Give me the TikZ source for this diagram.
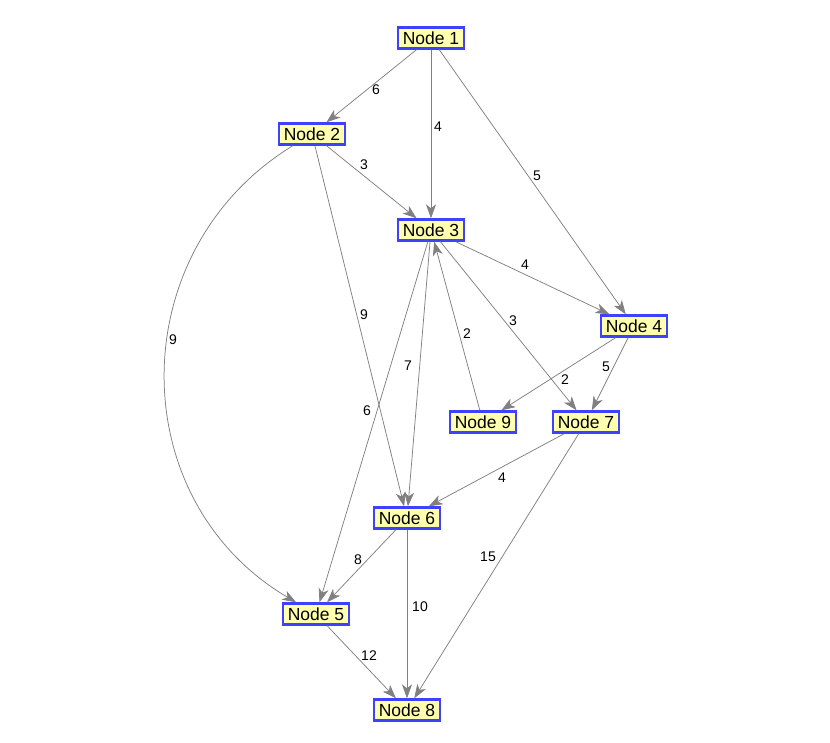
\documentclass[tikz,border=0pt]{standalone}
\usepackage{fontspec}
\setmainfont{Liberation Sans}
\usetikzlibrary{arrows.meta}
\definecolor{boxblue}{RGB}{64,64,255}
\definecolor{boxyellow}{RGB}{255,255,176}
\definecolor{edgegray}{RGB}{128,128,128}

\begin{document}
\begin{tikzpicture}[
		x=1pt,y=-1pt,
		vertex/.style={draw=boxblue,fill=boxyellow,line width=2.3pt,
			font=\fontsize{17.5}{17.5}\selectfont,inner xsep=5pt,inner ysep=0pt,
			minimum height=21pt,text height=12.8pt,text depth=0pt},
		edge/.style={draw=edgegray,line width=0.75pt,
			-{Stealth[length=14pt,width=10pt,inset=4pt]}},
		lbl/.style={font=\fontsize{14}{14}\selectfont,inner sep=1pt},
	]
	\useasboundingbox (0,0) rectangle (830,743);
	% nodes
	\node[vertex] (n1) at (431,38) {Node 1};
	\node[vertex] (n2) at (312,134) {Node 2};
	\node[vertex] (n3) at (431,230) {Node 3};
	\node[vertex] (n4) at (634,326) {Node 4};
	\node[vertex] (n9) at (483,422) {Node 9};
	\node[vertex] (n7) at (586,422) {Node 7};
	\node[vertex] (n6) at (407,518) {Node 6};
	\node[vertex] (n5) at (316,614) {Node 5};
	\node[vertex] (n8) at (407,710) {Node 8};
	% edges
	\draw[edge] (n1) -- (n2);
	\draw[edge] (n1) -- (n3);
	\draw[edge] (n1) -- (n4);
	\draw[edge] (n2) -- (n3);
	\draw[edge] (n2) .. controls (122,250) and (122,500) .. (n5);
	\draw[edge] (n2) -- (n6);
	\draw[edge] (n3) -- (n4);
	\draw[edge] (n3) -- (n7);
	\draw[edge] (n3.255) -- (n5);
	\draw[edge] (n3) -- (n6);
	\draw[edge] (n9) -- (n3);
	\draw[edge] (n4) -- (n9);
	\draw[edge] (n4) -- (n7);
	\draw[edge] (n7) -- (n6);
	\draw[edge] (n7) -- (n8);
	\draw[edge] (n6) -- (n5);
	\draw[edge] (n6) -- (n8);
	\draw[edge] (n5) -- (n8);
	% weights
	\node[lbl] (w12) at (376,90) {6};
	\node[lbl] (w13) at (438,127) {4};
	\node[lbl] (w14) at (537,176) {5};
	\node[lbl] (w23) at (364,165) {3};
	\node[lbl] (w25) at (173,340) {9};
	\node[lbl] (w26) at (364,315) {9};
	\node[lbl] (w34) at (525,265) {4};
	\node[lbl] (w37) at (513,321) {3};
	\node[lbl] (w35) at (367,411) {6};
	\node[lbl] (w36) at (408,366) {7};
	\node[lbl] (w93) at (467,334) {2};
	\node[lbl] (w49) at (565,380) {2};
	\node[lbl] (w47) at (606,367) {5};
	\node[lbl] (w76) at (502,478) {4};
	\node[lbl] (w78) at (488,557) {15};
	\node[lbl] (w65) at (358,560) {8};
	\node[lbl] (w68) at (420,607) {10};
	\node[lbl] (w58) at (369,656) {12};
\end{tikzpicture}
\end{document}
